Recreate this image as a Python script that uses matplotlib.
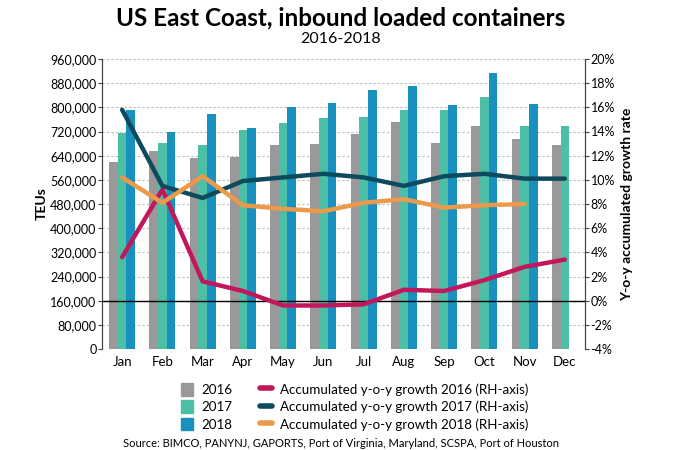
import matplotlib
matplotlib.use('Agg')
import matplotlib.pyplot as plt
from matplotlib.patches import Patch
from matplotlib.lines import Line2D
from matplotlib.ticker import FuncFormatter
import numpy as np

plt.rcParams['font.family'] = ['Lato', 'DejaVu Sans']

months = ['Jan', 'Feb', 'Mar', 'Apr', 'May', 'Jun', 'Jul', 'Aug', 'Sep', 'Oct', 'Nov', 'Dec']

# TEUs
teu_2016 = [618000, 657000, 633000, 636000, 675000, 679000, 711000, 753000, 682000, 738000, 694000, 674000]
teu_2017 = [716000, 681000, 675000, 725000, 748000, 764000, 768000, 791000, 791000, 835000, 738000, 738000]
teu_2018 = [790000, 720000, 779000, 732000, 801000, 813000, 858000, 872000, 809000, 915000, 810000]

# accumulated y-o-y growth, %
growth_2016 = [3.6, 9.2, 1.6, 0.8, -0.4, -0.4, -0.3, 0.9, 0.8, 1.7, 2.8, 3.4]
growth_2017 = [15.8, 9.5, 8.5, 9.9, 10.2, 10.5, 10.2, 9.5, 10.3, 10.5, 10.1, 10.1]
growth_2018 = [10.2, 8.1, 10.3, 7.9, 7.6, 7.4, 8.1, 8.4, 7.7, 7.9, 8.0]

c16, c17, c18 = '#999999', '#4cbfa6', '#1891bf'
l16, l17, l18 = '#c2185b', '#0e4a5e', '#eb9a4b'

fig = plt.figure(figsize=(6.82, 4.5), dpi=100)
ax = fig.add_axes([102/682, 1-349/450, 483/682, 290/450])
ax2 = ax.twinx()

x = np.arange(len(months))
w = 0.215
ax.bar(x - w, teu_2016, w, color=c16, zorder=2)
ax.bar(x, teu_2017, w, color=c17, zorder=2)
ax.bar(np.arange(len(teu_2018)) + w, teu_2018, w, color=c18, zorder=2)

ax.set_xlim(-0.5, 11.5)
ax.set_ylim(0, 960000)
ax.set_yticks(np.arange(0, 960001, 80000))
ax.yaxis.set_major_formatter(FuncFormatter(lambda v, p: f'{int(v):,}'))
ax.set_xticks(x)
ax.set_xticklabels(months)
ax.yaxis.grid(True, linestyle=(0, (2, 2)), color='#bbbbbb', linewidth=0.8, zorder=0)
ax.set_axisbelow(True)
ax.set_ylabel('TEUs', fontsize=10, fontweight='bold', labelpad=2)

ax2.axhline(0, color='black', linewidth=1, zorder=3)
ax2.plot(x, growth_2016, color=l16, lw=3.2, solid_capstyle='round', solid_joinstyle='round', zorder=4)
ax2.plot(x, growth_2017, color=l17, lw=3.2, solid_capstyle='round', solid_joinstyle='round', zorder=4)
ax2.plot(np.arange(len(growth_2018)), growth_2018, color=l18, lw=3.2, solid_capstyle='round', solid_joinstyle='round', zorder=4)
ax2.set_ylim(-4, 20)
ax2.set_yticks(np.arange(-4, 21, 2))
ax2.yaxis.set_major_formatter(FuncFormatter(lambda v, p: f'{int(v)}%'))
ax2.set_ylabel('Y-o-y accumulated growth rate', fontsize=10, fontweight='bold', labelpad=4)

for a in (ax, ax2):
    a.spines['top'].set_visible(False)
    a.spines['bottom'].set_visible(False)
    a.spines['left'].set_color('#444444')
    a.spines['right'].set_color('#444444')
    a.tick_params(axis='y', labelsize=9, length=3, width=0.8, color='#444444', pad=1)
ax.tick_params(axis='x', length=0, labelsize=9.5, pad=5)

handles = [Patch(color=c16, label='2016'),
           Patch(color=c17, label='2017'),
           Patch(color=c18, label='2018'),
           Line2D([], [], color=l16, lw=4, solid_capstyle='round', label='Accumulated y-o-y growth 2016 (RH-axis)'),
           Line2D([], [], color=l17, lw=4, solid_capstyle='round', label='Accumulated y-o-y growth 2017 (RH-axis)'),
           Line2D([], [], color=l18, lw=4, solid_capstyle='round', label='Accumulated y-o-y growth 2018 (RH-axis)')]
fig.legend(handles=handles, ncol=2, loc='upper center', bbox_to_anchor=(0.52, 1-371/450),
           frameon=False, fontsize=9.6, handlelength=0.9, handleheight=1.1,
           columnspacing=2.1, labelspacing=0.33, handletextpad=0.6)

fig.text(0.5, 1-6/450, 'US East Coast, inbound loaded containers', ha='center', va='top',
         fontsize=17.5, fontweight='bold')
fig.text(0.5, 1-32/450, '2016-2018', ha='center', va='top', fontsize=11.5)
fig.text(0.5, 1/450, 'Source: BIMCO, PANYNJ, GAPORTS, Port of Virginia, Maryland, SCSPA, Port of Houston',
         ha='center', va='bottom', fontsize=8)

fig.savefig('out.png', dpi=100)
